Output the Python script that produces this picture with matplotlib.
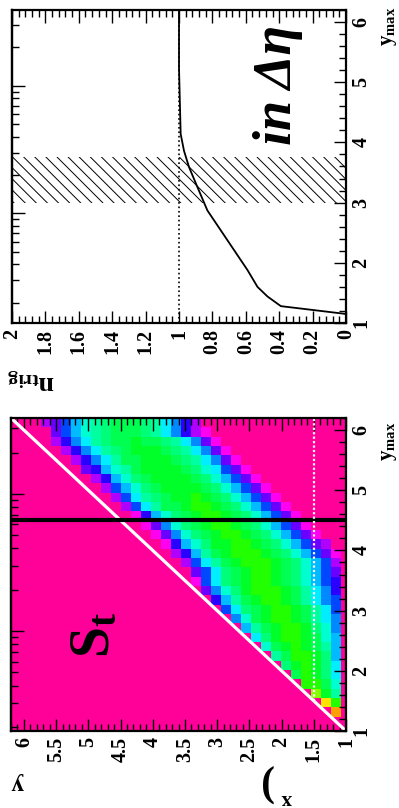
import numpy as np
import matplotlib
matplotlib.use("Agg")
import matplotlib.pyplot as plt
from matplotlib.colors import ListedColormap, BoundaryNorm
from matplotlib.ticker import MultipleLocator, FixedLocator, FuncFormatter

plt.rcParams["font.family"] = ["Liberation Serif", "DejaVu Serif"]
plt.rcParams["font.weight"] = "bold"
plt.rcParams["mathtext.fontset"] = "custom"
plt.rcParams["mathtext.rm"] = "Liberation Serif:bold"
plt.rcParams["mathtext.bf"] = "Liberation Serif:bold"
plt.rcParams["mathtext.it"] = "Liberation Serif:italic:bold"
plt.rcParams["hatch.linewidth"] = 0.7

# top panel: n_trig versus y_max
ymax_curve = [1.15, 1.28, 1.44, 1.60, 1.88, 2.21, 2.54, 2.87, 3.26, 3.59, 3.86, 4.14, 4.69, 5.24, 6.2]
ntrig_curve = [0.0, 0.39, 0.47, 0.53, 0.59, 0.67, 0.75, 0.83, 0.89, 0.94, 0.97, 0.99, 0.995, 1.0, 1.0]
ntrig_ref = 1.0
hatch_band = (3.0, 3.75)

# bottom panel: S_t map, y (horizontal) against y_max (vertical)
bin_width = 0.155
first_bin, last_bin = 6, 40
band_rows = [39, 38, 37, 36, 35, 34, 33, 32, 31, 30, 29, 28, 27, 26, 25, 24, 23,
             22, 21, 20, 19, 18, 17, 16, 15, 14, 13, 12, 11, 10, 9, 8]
band_start = [21, 20, 19, 18, 17, 16, 15, 14, 13, 12, 11, 10, 9, 8, 7, 7, 7,
              7, 7, 7, 7, 7, 7, 7, 7, 7, 7, 7, 7, 7, 7, 7]
band_levels = [
    "2468abcccba97532",
    "12468abcccba9753",
    "1368abccdccba8642",
    "1368abcdddcba8642",
    "1368abcdddcca8642",
    "13589bcddddca9743",
    "13579bcddddcb9742",
    "13579bcddddcb9752",
    "13579bcdeddcba852",
    "13579bcdeedcca852",
    "13579bcdeedcb9741",
    "13579bcdeedcb9631",
    "13579bcdeedcb9631",
    "23579bcdeeddb9741",
    "13579bcdeeedca742",
    "2579bcdeeedca852",
    "3579bcdeedcb853",
    "4579bcdeedcb851",
    "468acdeeedb963",
    "568acdeedca74",
    "58acdeedcb85",
    "68acdeedc96",
    "69bdeedca7",
    "79cdeedb8",
    "7acdedc9",
    "7bdeeca",
    "8bdedb",
    "8bdec",
    "9cee",
    "adf",
    "eh",
    "i",
]
level_keys = "123456789abcdefghi"
palette = ["#ff00f0", "#b000ff", "#6a00ff", "#2a00ff", "#0048ff", "#0088ff",
           "#00bbff", "#00eeff", "#00ffd0", "#00ffa0", "#00ff78", "#00ff50",
           "#00ff28", "#22ff00", "#88ff00", "#ccff00", "#ffe400", "#ffa000"]
background = "#ff0099"
y_cut = 1.5
ymax_cut = 4.5

axis_lo, axis_hi = 1.0, 6.2

fig = plt.figure(figsize=(3.99, 8.08), dpi=100)
ax1 = fig.add_axes([12 / 399, 1 - 323 / 808, 334 / 399, 313 / 808])
ax2 = fig.add_axes([11 / 399, 1 - 731 / 808, 335 / 399, 313 / 808])

fmt = FuncFormatter(lambda v, p: "%g" % round(v, 3))


def style(ax, xmajor, xminor, sec_mid, sec_decade):
    ax.xaxis.set_major_locator(MultipleLocator(xmajor))
    ax.xaxis.set_minor_locator(MultipleLocator(xminor))
    ax.xaxis.set_major_formatter(fmt)
    ax.yaxis.set_major_locator(MultipleLocator(1))
    ax.yaxis.set_minor_locator(MultipleLocator(0.2))
    ax.yaxis.set_major_formatter(fmt)
    ax.yaxis.tick_right()
    ax.tick_params(axis="x", which="both", direction="in", top=True, bottom=True,
                   labelrotation=90, labelsize=14.5, pad=4)
    ax.tick_params(axis="y", which="both", direction="in", left=False, right=True,
                   labelrotation=90, labelsize=14.5, pad=4)
    ax.tick_params(which="major", length=9, width=1)
    ax.tick_params(which="minor", length=5, width=1)
    for sp in ax.spines.values():
        sp.set_linewidth(1.6)
    for t in ax.get_yticklabels():
        t.set_va("center")

    fwd = lambda y: 10 ** ((np.asarray(y) - sec_mid) / sec_decade)
    inv = lambda v: sec_mid + sec_decade * np.log10(np.maximum(np.asarray(v), 1e-9))
    sec = ax.secondary_yaxis("left", functions=(fwd, inv))
    sec.set_yticks([1, 10])
    sec.yaxis.set_minor_locator(FixedLocator(
        [0.2, 0.3, 0.4, 0.5, 0.6, 0.7, 0.8, 0.9, 2, 3, 4, 5, 6, 7, 8, 9, 20, 30]))
    sec.tick_params(which="both", direction="in", labelleft=False, width=1)
    sec.tick_params(which="major", length=9)
    sec.tick_params(which="minor", length=5)
    sec.spines["left"].set_linewidth(1.6)


# top panel
ax1.set_xlim(2, 0)
ax1.set_ylim(axis_lo, axis_hi)
ax1.axhspan(*hatch_band, facecolor="none", edgecolor="black", hatch="\\\\\\", lw=0)
ax1.axvline(ntrig_ref, color="black", ls=":", lw=1.2)
ax1.plot(ntrig_curve, ymax_curve, color="black", lw=1.3)
style(ax1, 0.2, 0.04, 2.82, 2.12)

# bottom panel
edges = bin_width * np.arange(first_bin, last_bin + 1)
nb = last_bin - first_bin
grid = np.zeros((nb, nb))
for row, start, levels in zip(band_rows, band_start, band_levels):
    for j, ch in enumerate(levels):
        grid[row - first_bin, start - first_bin + j] = level_keys.index(ch) + 1
cmap = ListedColormap(palette)
norm = BoundaryNorm(np.arange(0.5, len(palette) + 1), len(palette))
ax2.set_facecolor(background)
ax2.pcolormesh(edges, edges, np.ma.masked_equal(grid, 0), cmap=cmap, norm=norm)
ax2.plot([axis_lo, axis_hi], [axis_lo, axis_hi], color="white", lw=2.3)
ax2.axhline(ymax_cut, color="black", lw=3)
ax2.plot([y_cut, y_cut], [y_cut, axis_hi], color="white", lw=1.6, ls=(0, (1, 1)))
ax2.set_xlim(axis_hi, axis_lo)
ax2.set_ylim(axis_lo, axis_hi)
style(ax2, 0.5, 0.1, 2.66, 2.28)

# texts
fig.text(278 / 399, 1 - 85 / 808, "in Δη", rotation=90, style="italic",
         weight="bold", size=39, ha="center", va="center")
fig.text(95 / 399, 1 - 635 / 808, r"$\mathbf{S}_{\mathbf{t}}$", rotation=90,
         size=40, ha="center", va="center")
for yc in (26, 441):
    fig.text(389 / 399, 1 - yc / 808, r"$\mathbf{y}_{\mathbf{max}}$", rotation=90,
             size=15, ha="center", va="center")
fig.text(31 / 399, 1 - 378 / 808, r"$\mathbf{n}_{\mathbf{trig}}$", rotation=180,
         size=20, ha="center", va="center")
fig.text(17 / 399, 1 - 783 / 808, "y", rotation=180, size=18, ha="center", va="center")
fig.text(266 / 399, 1 - 783 / 808, ")", rotation=180, size=30, ha="center", va="center")
fig.text(287 / 399, 1 - 799 / 808, "x", rotation=180, size=15, ha="center", va="center")

fig.savefig("out.png", dpi=100)
